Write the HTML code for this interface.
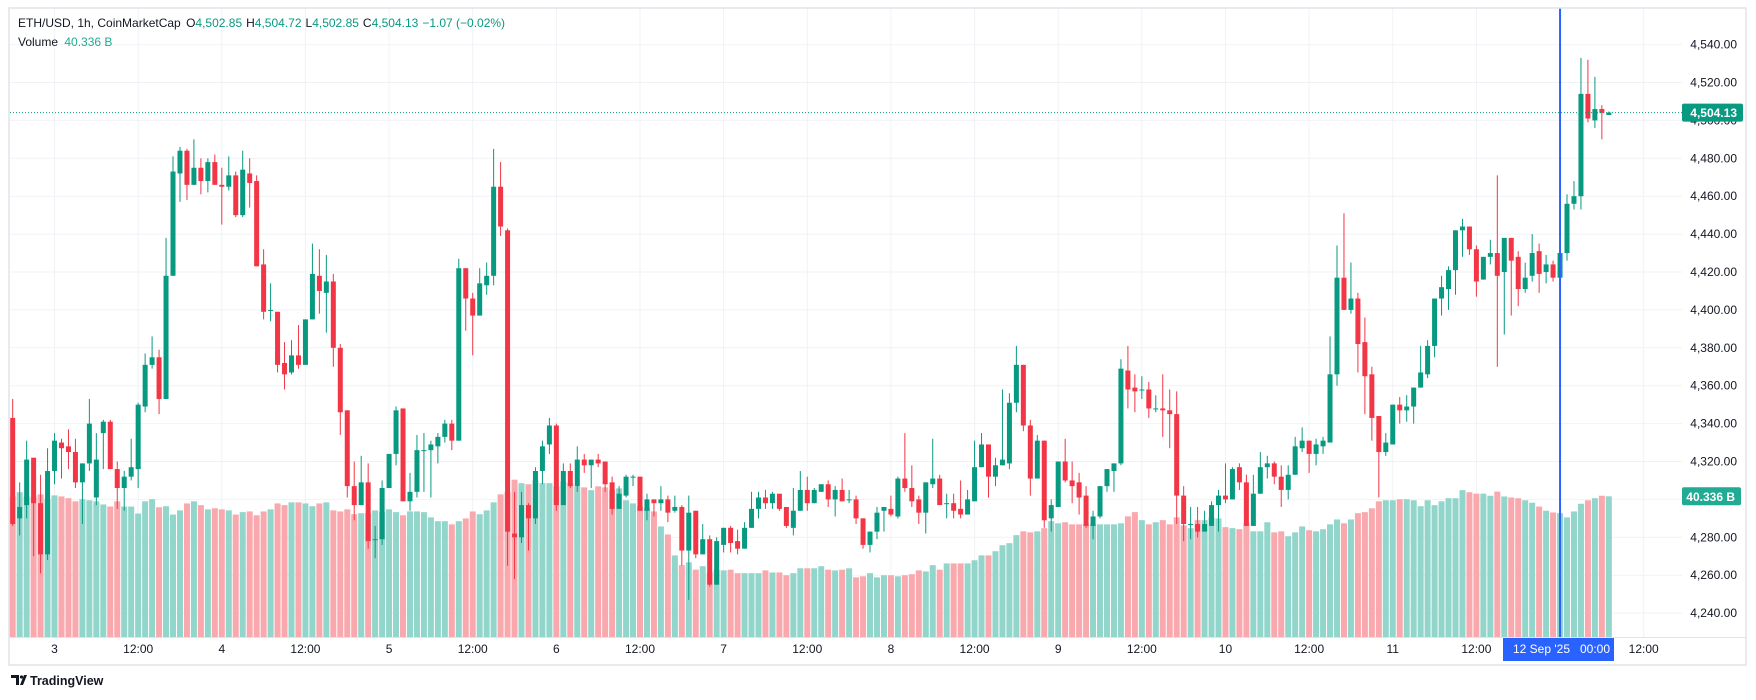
<!DOCTYPE html>
<html><head><meta charset="utf-8">
<style>
html,body{margin:0;padding:0;background:#fff;}
svg{display:block;font-family:"Liberation Sans",sans-serif;}
</style></head>
<body>
<svg id="chart" width="1756" height="700" viewBox="0 0 1756 700" xmlns="http://www.w3.org/2000/svg">
  <rect x="0" y="0" width="1756" height="700" fill="#ffffff"/>
  <g id="grid"></g>
  <g id="vol"></g>
  <g id="candles"></g>
  <g id="axes"></g>
  <g font-size="12">
    <text x="18" y="27" fill="#131722">ETH/USD, 1h, CoinMarketCap <tspan dx="2">O</tspan><tspan fill="#089981">4,502.85</tspan><tspan dx="4">H</tspan><tspan fill="#089981">4,504.72</tspan><tspan dx="4">L</tspan><tspan fill="#089981">4,502.85</tspan><tspan dx="4">C</tspan><tspan fill="#089981">4,504.13</tspan><tspan dx="4" fill="#089981">−1.07 (−0.02%)</tspan></text>
    <text x="18" y="46" fill="#131722">Volume <tspan dx="3" fill="#22ab94">40.336 B</tspan></text>
  </g>
  <g>
    <path d="M11 675 h8 v10 h-3 v-7 h-5 z" fill="#131722"/>
    <circle cx="21.5" cy="677" r="1.6" fill="#131722"/>
    <path d="M20 685 l4 -10 h3 l-4 10 z" fill="#131722"/>
    <text x="30" y="685" font-size="12.5" font-weight="bold" fill="#131722">TradingView</text>
  </g>
</svg>
<script>
const opens=[4343,4290,4297,4322,4298,4271,4315,4330,4328,4325,4309,4319,4301,4335,4341,4316,4306,4312,4316,4349,4371,4375,4353,4418,4472,4484,4466,4475,4468,4478,4466,4465,4471,4450,4472,4468,4424,4400,4399,4372,4367,4376,4371,4395,4418,4409,4415,4380,4347,4307,4297,4309,4279,4279,4306,4324,4348,4299,4304,4326,4326,4328,4333,4340,4331,4422,4406,4397,4413,4418,4465,4442,4282,4280,4297,4290,4315,4329,4339,4297,4315,4307,4321,4318,4321,4320,4309,4295,4302,4312,4312,4294,4300,4298,4300,4294,4296,4273,4294,4271,4279,4255,4276,4285,4278,4274,4285,4295,4301,4298,4303,4296,4285,4294,4305,4298,4304,4308,4300,4305,4300,4300,4290,4276,4283,4294,4295,4291,4311,4306,4300,4293,4308,4311,4298,4298,4295,4292,4299,4317,4329,4312,4318,4319,4351,4371,4339,4311,4331,4290,4296,4320,4310,4309,4302,4286,4291,4307,4315,4319,4368,4359,4358,4358,4348,4348,4347,4345,4302,4287,4287,4283,4286,4297,4302,4300,4317,4309,4286,4303,4317,4319,4312,4305,4313,4327,4331,4324,4328,4330,4366,4417,4400,4406,4383,4366,4344,4325,4329,4350,4347,4349,4359,4366,4381,4406,4411,4421,4442,4444,4432,4416,4428,4430,4420,4438,4428,4411,4418,4431,4420,4424,4417,4430,4456,4460,4514,4500,4506,4502.85];
const highs=[4353,4309,4331,4322,4313,4327,4335,4332,4337,4332,4319,4353,4335,4342,4342,4320,4315,4332,4351,4377,4386,4379,4438,4481,4486,4485,4490,4480,4480,4482,4475,4481,4473,4484,4480,4471,4432,4414,4399,4383,4384,4392,4395,4435,4432,4429,4419,4382,4347,4320,4323,4319,4286,4310,4324,4349,4348,4314,4334,4335,4331,4335,4342,4342,4427,4422,4409,4422,4425,4485,4478,4443,4304,4304,4298,4317,4331,4343,4340,4319,4319,4328,4324,4321,4324,4320,4312,4307,4313,4313,4312,4303,4300,4307,4302,4302,4297,4302,4294,4287,4281,4280,4285,4286,4284,4288,4304,4304,4305,4304,4303,4296,4306,4315,4312,4306,4308,4310,4307,4311,4305,4302,4290,4283,4296,4296,4302,4312,4335,4318,4302,4309,4332,4313,4303,4303,4310,4305,4331,4335,4329,4322,4358,4356,4381,4371,4342,4334,4331,4300,4320,4332,4320,4314,4307,4294,4307,4316,4319,4374,4381,4366,4365,4362,4355,4366,4358,4357,4307,4296,4296,4294,4299,4305,4319,4317,4319,4313,4313,4325,4323,4320,4318,4318,4333,4338,4331,4332,4333,4386,4434,4451,4425,4409,4396,4370,4344,4335,4350,4354,4355,4359,4381,4384,4406,4418,4423,4442,4448,4444,4434,4428,4437,4471,4438,4438,4431,4425,4440,4435,4429,4426,4431,4461,4468,4533,4532,4523,4508,4504.72];
const lows=[4286,4281,4290,4270,4261,4268,4308,4311,4316,4306,4287,4315,4297,4316,4316,4295,4294,4310,4306,4346,4369,4345,4353,4418,4457,4458,4466,4461,4462,4466,4445,4463,4449,4449,4454,4423,4395,4394,4367,4358,4366,4369,4371,4395,4398,4388,4370,4334,4301,4289,4297,4274,4269,4276,4306,4318,4299,4294,4301,4304,4301,4319,4330,4326,4331,4389,4376,4397,4408,4413,4439,4265,4258,4277,4273,4287,4308,4324,4294,4297,4306,4304,4314,4306,4317,4304,4292,4295,4301,4307,4294,4289,4291,4294,4288,4293,4265,4247,4269,4271,4254,4255,4272,4272,4271,4274,4285,4290,4295,4295,4294,4285,4281,4294,4294,4298,4304,4296,4291,4299,4298,4287,4274,4272,4279,4283,4291,4290,4304,4296,4287,4282,4306,4297,4290,4290,4290,4292,4299,4317,4301,4307,4318,4316,4346,4336,4302,4311,4285,4283,4296,4309,4298,4292,4285,4279,4290,4304,4304,4318,4348,4346,4353,4343,4346,4333,4327,4287,4278,4279,4280,4283,4286,4283,4298,4300,4305,4286,4286,4303,4311,4308,4296,4300,4313,4325,4314,4318,4324,4330,4360,4400,4398,4367,4345,4331,4301,4323,4329,4340,4341,4340,4359,4364,4375,4397,4400,4408,4428,4429,4407,4416,4424,4370,4387,4397,4402,4409,4415,4409,4414,4415,4416,4426,4453,4453,4499,4496,4490,4502.85];
const closes=[4287,4296,4321,4298,4271,4315,4331,4327,4325,4309,4319,4340,4321,4341,4316,4306,4312,4317,4350,4371,4375,4353,4418,4473,4484,4466,4475,4468,4478,4466,4465,4471,4450,4474,4467,4423,4399,4400,4371,4366,4376,4371,4395,4419,4410,4415,4380,4346,4307,4297,4309,4278,4279,4306,4324,4347,4299,4304,4326,4326,4329,4333,4340,4331,4422,4406,4397,4414,4418,4465,4444,4283,4280,4297,4290,4315,4328,4339,4297,4315,4307,4321,4318,4321,4319,4308,4295,4303,4312,4312,4294,4300,4298,4300,4293,4296,4273,4293,4271,4279,4255,4278,4285,4277,4274,4285,4295,4301,4298,4303,4295,4286,4294,4305,4298,4305,4308,4300,4305,4299,4300,4290,4276,4283,4293,4296,4292,4311,4306,4299,4293,4309,4311,4297,4298,4294,4292,4300,4317,4329,4312,4318,4321,4351,4371,4339,4311,4331,4289,4297,4320,4310,4307,4301,4286,4291,4307,4316,4319,4369,4358,4357,4358,4348,4348,4347,4345,4302,4287,4287,4283,4287,4297,4302,4300,4316,4309,4286,4303,4317,4319,4312,4305,4313,4328,4331,4324,4329,4331,4366,4417,4400,4406,4382,4365,4343,4325,4330,4350,4347,4349,4359,4367,4381,4406,4412,4421,4442,4444,4432,4415,4428,4430,4418,4438,4426,4411,4417,4430,4419,4424,4417,4430,4456,4460,4514,4501,4506,4504,4504.13];
const volumes=[40.3,41.5,40.3,40.3,40.9,39.6,40.6,40.3,39.8,38.9,39.5,39.2,38.9,38.0,37.4,38.9,37.4,37.4,35.4,38.9,39.5,37.2,37.5,35.1,36.3,38.3,38.9,37.8,36.6,36.9,36.6,36.3,35.1,35.8,36.0,34.9,36.0,36.6,38.3,37.8,38.6,38.6,38.3,37.5,38.3,38.6,36.3,36.0,36.6,35.2,35.5,35.5,36.3,35.8,36.6,35.8,34.9,36.0,36.0,35.8,34.3,33.2,33.2,32.3,33.2,34.0,36.0,35.2,36.3,38.6,40.9,41.5,45.1,44.1,43.8,44.9,44.1,44.1,43.2,44.6,44.1,43.2,42.9,42.1,43.2,42.9,42.1,42.6,39.2,38.3,37.5,36.9,36.0,31.7,29.4,23.4,20.6,21.4,19.3,20.3,18.5,19.3,19.1,19.3,18.3,18.3,18.3,18.3,19.1,18.5,18.5,17.7,18.3,19.7,19.7,19.7,20.3,19.3,19.1,19.3,19.7,17.1,17.4,18.3,17.1,17.7,17.7,17.4,17.7,18.0,19.1,18.8,20.6,19.3,21.1,21.1,21.1,21.1,22.0,23.4,23.4,24.6,26.3,26.9,29.2,30.3,30.0,30.3,31.2,33.2,32.6,32.9,32.3,32.3,32.3,32.3,32.3,32.3,32.3,32.6,34.6,35.8,33.5,32.3,32.9,33.5,32.3,34.3,32.0,31.2,33.5,33.5,34.3,34.0,31.5,31.2,30.9,32.6,30.3,30.3,32.9,30.0,30.3,28.9,30.0,31.7,30.6,30.3,30.9,32.3,33.7,32.6,33.7,35.5,35.8,36.9,38.9,39.2,39.2,39.5,39.5,39.2,37.5,39.2,37.8,38.9,39.8,39.8,42.1,41.5,41.1,41.1,40.5,41.7,40.3,40.0,39.8,39.2,38.5,37.4,36.2,35.7,35.5,34.3,36.0,38.2,39.2,39.8,40.5,40.336];
const priceTicks=[4240,4260,4280,4300,4320,4340,4360,4380,4400,4420,4440,4460,4480,4500,4520,4540];
const timeTickIdx=[6,18,30,42,54,66,78,90,102,114,126,138,150,162,174,186,198,210,234];
const timeTickLabels=["3","12:00","4","12:00","5","12:00","6","12:00","7","12:00","8","12:00","9","12:00","10","12:00","11","12:00","12:00"];
const lastPrice=4504.13;
const lastVolume=40.336;
const crosshairIdx=222;

const NS="http://www.w3.org/2000/svg";
const X0=12.7, DX=6.97;
const xAt=i=>X0+i*DX;
const yP=p=>158.3+(4480-p)*1.895;
const yV=v=>637-v*3.488;
function mk(tag,attrs,parent){const e=document.createElementNS(NS,tag);for(const k in attrs)e.setAttribute(k,attrs[k]);parent.appendChild(e);return e;}
const grid=document.getElementById('grid'),vol=document.getElementById('vol'),cg=document.getElementById('candles'),axes=document.getElementById('axes');

priceTicks.forEach(p=>{
  const y=yP(p);
  const l=mk('line',{x1:10,x2:1682,y1:y,y2:y,stroke:'#f0f2f6','stroke-width':1},grid);
  
  
  const t=mk('text',{x:1737,y:y+4,'text-anchor':'end','font-size':12,fill:'#131722'},axes);
  t.textContent=p.toLocaleString('en-US',{minimumFractionDigits:2,maximumFractionDigits:2});
  
  
});
timeTickIdx.forEach((ix,k)=>{
  const x=xAt(ix);
  const l=mk('line',{x1:x,x2:x,y1:8,y2:637,stroke:'#f0f2f6','stroke-width':1},grid);
  
  
  const t=mk('text',{x:x,y:653,'text-anchor':'middle','font-size':12,fill:'#131722'},axes);
  t.textContent=timeTickLabels[k];
  
  
});
volumes.forEach((v,i)=>{
  const up=closes[i]>=opens[i];
  const y=yV(v);
  const r=mk('rect',{x:xAt(i)-3,y:y,width:6,height:637-y,fill:up?'#92d5ca':'#f9a8ae'},vol);
  
  
});
opens.forEach((o,i)=>{
  const c=closes[i],up=c>=o,col=up?'#089981':'#f23645',x=xAt(i);
  const w=mk('line',{x1:x,x2:x,y1:yP(highs[i]),y2:yP(lows[i]),stroke:col,'stroke-width':1},cg);
  
  
  const yt=yP(Math.max(o,c)),yb=yP(Math.min(o,c));
  const b=mk('rect',{x:x-2.5,y:yt,width:5,height:Math.max(1,yb-yt),fill:col},cg);
  
  
});
const ly=yP(lastPrice);
const pl=mk('line',{x1:10,x2:1682,y1:ly,y2:ly,stroke:'#089981','stroke-width':1,'stroke-dasharray':'1 2'},axes);


const pb=mk('rect',{x:1682,y:ly-9,width:61,height:18,fill:'#089981',rx:2},axes);


const pt=mk('text',{x:1737,y:ly+4.5,'text-anchor':'end','font-size':12,'font-weight':'bold',fill:'#fff'},axes);
pt.textContent=lastPrice.toLocaleString('en-US',{minimumFractionDigits:2});


const vy=yV(lastVolume);
const vb=mk('rect',{x:1682,y:vy-9,width:59,height:18,fill:'#22ab94',rx:2},axes);


const vt=mk('text',{x:1735,y:vy+4.5,'text-anchor':'end','font-size':12,'font-weight':'bold',fill:'#fff'},axes);
vt.textContent=lastVolume.toFixed(3)+' B';


const cx=xAt(crosshairIdx);
const ch=mk('line',{x1:cx,x2:cx,y1:8,y2:637,stroke:'#2962ff','stroke-width':2},axes);


const cb=mk('rect',{x:1503,y:637,width:111,height:24,fill:'#2962ff'},axes);


const ct=mk('text',{x:1513,y:653,'font-size':12,fill:'#fff'},axes);
ct.textContent="12 Sep '25";


const ct2=mk('text',{x:1580,y:653,'font-size':12,fill:'#fff'},axes);
ct2.textContent="00:00";


const ax=mk('line',{x1:9,x2:1746,y1:637.5,y2:637.5,stroke:'#e0e3eb','stroke-width':1},axes);


const fr=mk('rect',{x:9,y:8,width:1737,height:657,fill:'none',stroke:'#e0e3eb','stroke-width':1.5},axes);


</script>
</body></html>
